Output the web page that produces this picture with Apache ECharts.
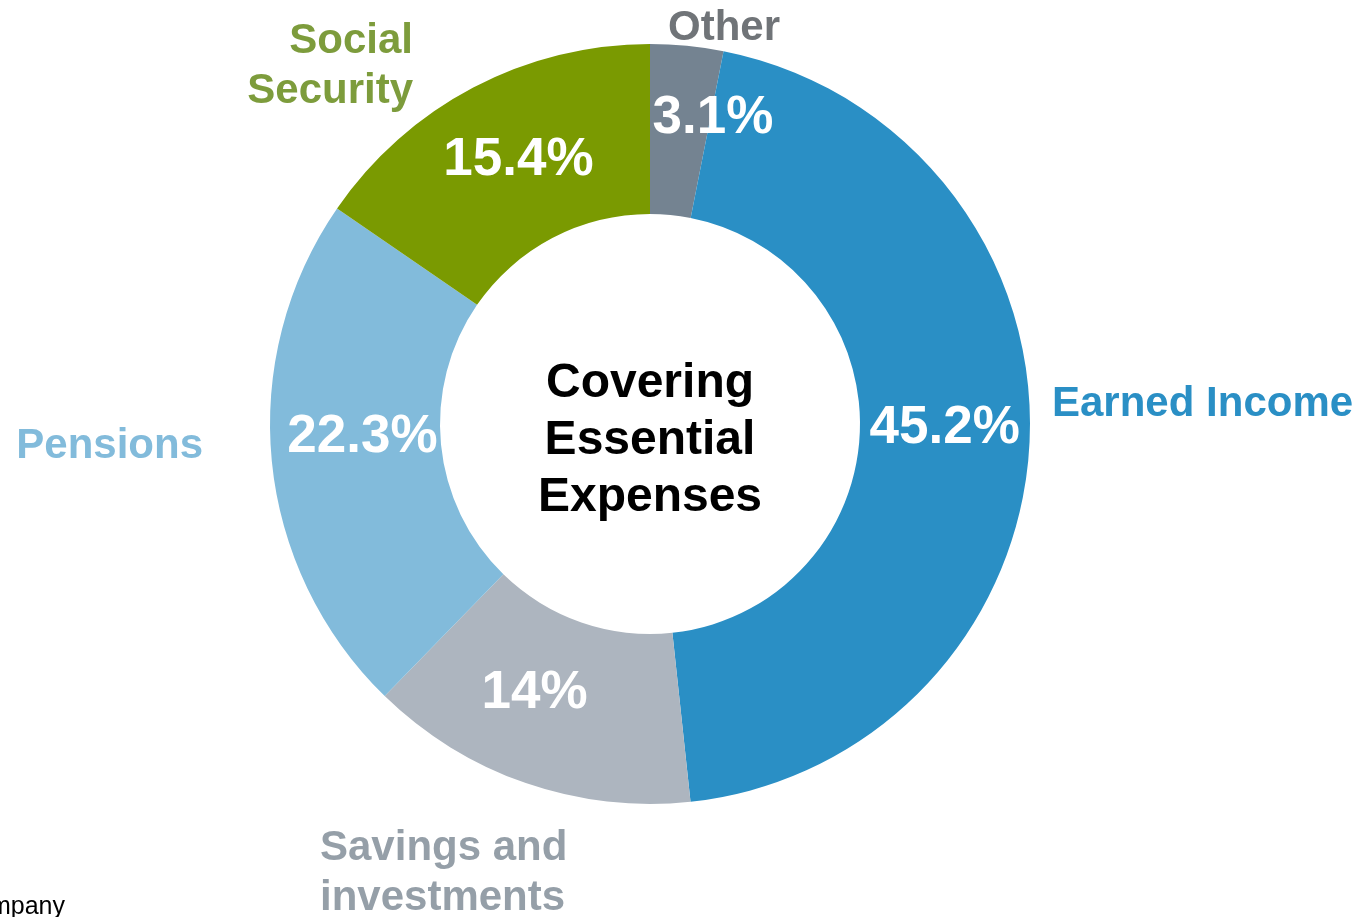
<!DOCTYPE html>
<html><head><meta charset="utf-8">
<script src="https://cdn.jsdelivr.net/npm/echarts@6/dist/echarts.min.js"></script>
<style>html,body{margin:0;padding:0;background:#fff}#c{width:1363px;height:917px}</style>
</head><body><div id="c"></div>
<script>
const categories = ['Other', 'Earned Income', 'Savings and\ninvestments', 'Pensions', 'Social\nSecurity'];
const values = [3.1, 45.2, 14, 22.3, 15.4];
const valueLabels = ['3.1%', '45.2%', '14%', '22.3%', '15.4%'];
const sliceColors = ['#748391', '#2a8fc5', '#adb5bf', '#82bbdb', '#7a9a01'];
const nameColors = ['#707478', '#2a8fc5', '#959fa8', '#82bbdb', '#7d9c3c'];
const centerText = 'Covering\nEssential\nExpenses';
const footText = 'Company';

const FONT = '"Liberation Sans", Arial, sans-serif';
// outer name label placement (styles)
const namePos = [
  {x: 724, y: 28, align: 'center'},
  {x: 1052, y: 404, align: 'left'},
  {x: 320, y: 873, align: 'left'},
  {x: 203, y: 446, align: 'right'},
  {x: 413, y: 66, align: 'right'}
];
// inside value label nudges (styles)
const valueNudge = [
  {dx: 34, dy: -9}, {dx: -3, dy: -9}, {dx: -18, dy: -12}, {dx: 9, dy: -16}, {dx: 7, dy: 0}
];

const chart = echarts.init(document.getElementById('c'));
const data1 = categories.map((n, i) => ({name: n, value: values[i], itemStyle: {color: sliceColors[i]}}));
const data2 = categories.map((n, i) => ({name: n, value: values[i],
  label: {color: nameColors[i], align: namePos[i].align}}));

chart.setOption({
  animation: false,
  graphic: [
    {type: 'text', x: 650, y: 441, style: {text: centerText, font: 'bold 48px ' + FONT, fill: '#000',
      align: 'center', verticalAlign: 'middle', lineHeight: 57}},
    {type: 'text', x: -42, y: 920, style: {text: footText, font: '25px ' + FONT, fill: '#000',
      align: 'left', verticalAlign: 'bottom'}}
  ],
  series: [
    {
      type: 'pie', center: [650, 424], radius: [210, 380], startAngle: 90, clockwise: true,
      silent: true,
      label: {show: true, position: 'inside', color: '#fff', fontFamily: FONT, fontWeight: 'bold', fontSize: 53,
        formatter: p => valueLabels[p.dataIndex]},
      labelLayout: p => valueNudge[p.dataIndex],
      labelLine: {show: false},
      data: data1
    },
    {
      type: 'pie', center: [650, 424], radius: [210, 380], startAngle: 90, clockwise: true,
      silent: true,
      itemStyle: {color: 'rgba(0,0,0,0)'},
      label: {show: true, position: 'outside', fontFamily: FONT, fontWeight: 'bold', fontSize: 42, lineHeight: 50,
        overflow: 'none', width: 600, formatter: p => p.name},
      labelLine: {show: false},
      labelLayout: p => ({x: namePos[p.dataIndex].x, y: namePos[p.dataIndex].y, align: namePos[p.dataIndex].align, verticalAlign: 'middle'}),
      data: data2
    }
  ]
});
</script></body></html>
